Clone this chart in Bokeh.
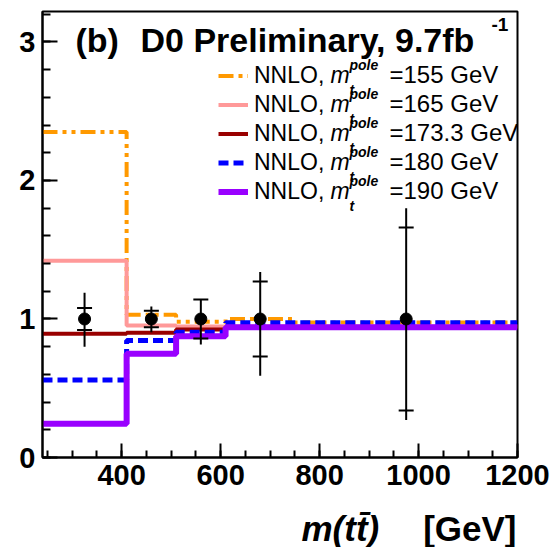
from bokeh.plotting import figure
from bokeh.models import Range1d, SingleIntervalTicker, Label, Legend, LegendItem
from bokeh.layouts import column
from bokeh.embed import file_html
from bokeh.resources import INLINE

# ---------------- data ----------------
bin_edges = [240, 410, 510, 610, 750, 1200]
bin_centers = [325, 460, 560, 680, 975]
data_ratio = [1.0, 1.0, 1.0, 1.0, 1.0]
total_hi = [1.19, 1.09, 1.145, 1.34, 1.80]
total_lo = [0.80, 0.905, 0.815, 0.59, 0.27]
stat_hi = [1.08, 1.06, 1.14, 1.27, 1.66]
stat_lo = [0.92, 0.94, 0.86, 0.73, 0.34]

mt_labels = ["155", "165", "173.3", "180", "190"]
nnlo_155 = [2.35, 1.03, 0.98, 1.00, 0.975]
nnlo_165 = [1.42, 0.953, 0.946, 0.945, 0.945]
nnlo_173 = [0.893, 0.90, 0.924, 0.94, 0.94]
nnlo_180 = [0.56, 0.845, 0.905, 0.973, 0.973]
nnlo_190 = [0.243, 0.749, 0.876, 0.94, 0.94]

x_ticks_interval = 200
y_ticks_interval = 1

# ---------------- layout constants ----------------
W, H = 555, 547
FL, FR, FT, FB = 42, 517, 11, 457   # frame edges in page pixels
H1 = 500                            # height of the main figure
FONT = "Liberation Sans"


def step_xy(edges, vals):
    xs, ys = [], []
    for i, v in enumerate(vals):
        xs += [edges[i], edges[i + 1]]
        ys += [v, v]
    return xs, ys


def label(fig, x, y, text, size, style="normal", align="left"):
    fig.add_layout(Label(x=x, y=y, x_units="screen", y_units="screen", text=text,
                         text_font=FONT, text_font_style=style, text_font_size=size,
                         text_color="black", text_align=align, text_baseline="middle"))


p = figure(width=W, height=H1, x_range=Range1d(240, 1200), y_range=Range1d(0, 3.22),
           output_backend="svg", toolbar_location=None,
           min_border_left=FL, min_border_right=W - FR, min_border_top=FT,
           min_border_bottom=H1 - FB)
p.xgrid.visible = False
p.ygrid.visible = False
p.outline_line_color = "black"
p.outline_line_width = 2
p.outline_line_alpha = 1.0
p.background_fill_color = "white"
p.border_fill_color = "white"

p.xaxis.ticker = SingleIntervalTicker(interval=x_ticks_interval, num_minor_ticks=4)
p.yaxis.ticker = SingleIntervalTicker(interval=y_ticks_interval, num_minor_ticks=5)
for ax, mj, mn in ((p.xaxis, 14, 7), (p.yaxis, 15, 8)):
    ax.major_tick_in = mj
    ax.major_tick_out = 0
    ax.minor_tick_in = mn
    ax.minor_tick_out = 0
    ax.major_tick_line_width = 2
    ax.minor_tick_line_width = 2
    ax.axis_line_width = 2
    ax.major_label_text_font = FONT
    ax.major_label_text_font_style = "bold"
    ax.major_label_text_font_size = "29px"
    ax.major_label_text_color = "black"
    ax.major_label_standoff = 7

series = [
    (nnlo_155, "#FF9900", 4, "15 5 4 5 4 5"),
    (nnlo_165, "#FF9999", 4, "solid"),
    (nnlo_173, "#990000", 4, "solid"),
    (nnlo_180, "#0000FF", 5, "10 5"),
    (nnlo_190, "#9900FF", 6, "solid"),
]
renderers = []
for vals, col, lw, dash in series:
    xs, ys = step_xy(bin_edges, vals)
    r = p.line(xs, ys, line_color=col, line_width=lw, line_dash=dash)
    renderers.append(r)

# data with error bars
p.segment(x0=bin_centers, y0=total_lo, x1=bin_centers, y1=total_hi,
          line_color="black", line_width=2)
p.scatter(x=bin_centers + bin_centers, y=stat_hi + stat_lo, marker="dash", size=15,
          line_color="black", line_width=2)
p.scatter(x=bin_centers, y=data_ratio, marker="circle", size=12,
          fill_color="black", line_color="black")


def X(px):
    return px - FL


def Y(py):
    return FB - py


# legend (line samples + "NNLO,")
items = [LegendItem(label="NNLO,", renderers=[r]) for r in renderers]
legend = Legend(items=items, location=(X(218), Y(206)), glyph_width=30, glyph_height=29,
                label_height=29, label_width=10, spacing=0, padding=0, margin=0,
                label_standoff=6, border_line_color=None, background_fill_alpha=0,
                label_text_font=FONT, label_text_font_size="23px",
                label_text_color="black")
p.add_layout(legend)

for i, mt in enumerate(mt_labels):
    cy = 74 + 29 * i
    label(p, X(330), Y(cy), "m", "23px", "italic")
    label(p, X(349), Y(cy - 10), "pole", "14px", "bold italic")
    label(p, X(349), Y(cy + 15), "t", "14px", "bold italic")
    label(p, X(389), Y(cy), "=" + mt + " GeV", "24px")

# title
label(p, X(75), Y(39), "(b)", "34px", "bold")
label(p, X(140), Y(39), "D0 Preliminary, 9.7fb", "34px", "bold")
label(p, X(491), Y(24), "-1", "19px", "bold")

# x axis title strip underneath (mixed italic / upright text); its frame
# is aligned with the main frame, so x is measured from the frame's left edge
H2 = H - H1
q = figure(width=W, height=H2, x_range=Range1d(0, 1), y_range=Range1d(0, 1),
           output_backend="svg", toolbar_location=None,
           x_axis_location=None, y_axis_location=None, min_border=0)
q.xgrid.visible = False
q.ygrid.visible = False
q.outline_line_color = None
q.background_fill_color = "white"
q.border_fill_color = "white"
label(q, X(301), H - 528, "m(tt\u0304)", "35px", "bold italic")
label(q, X(516), H - 528, "[GeV]", "35px", "bold", align="right")

layout = column(p, q, spacing=0)
open("out.html", "w").write(file_html(layout, INLINE))
